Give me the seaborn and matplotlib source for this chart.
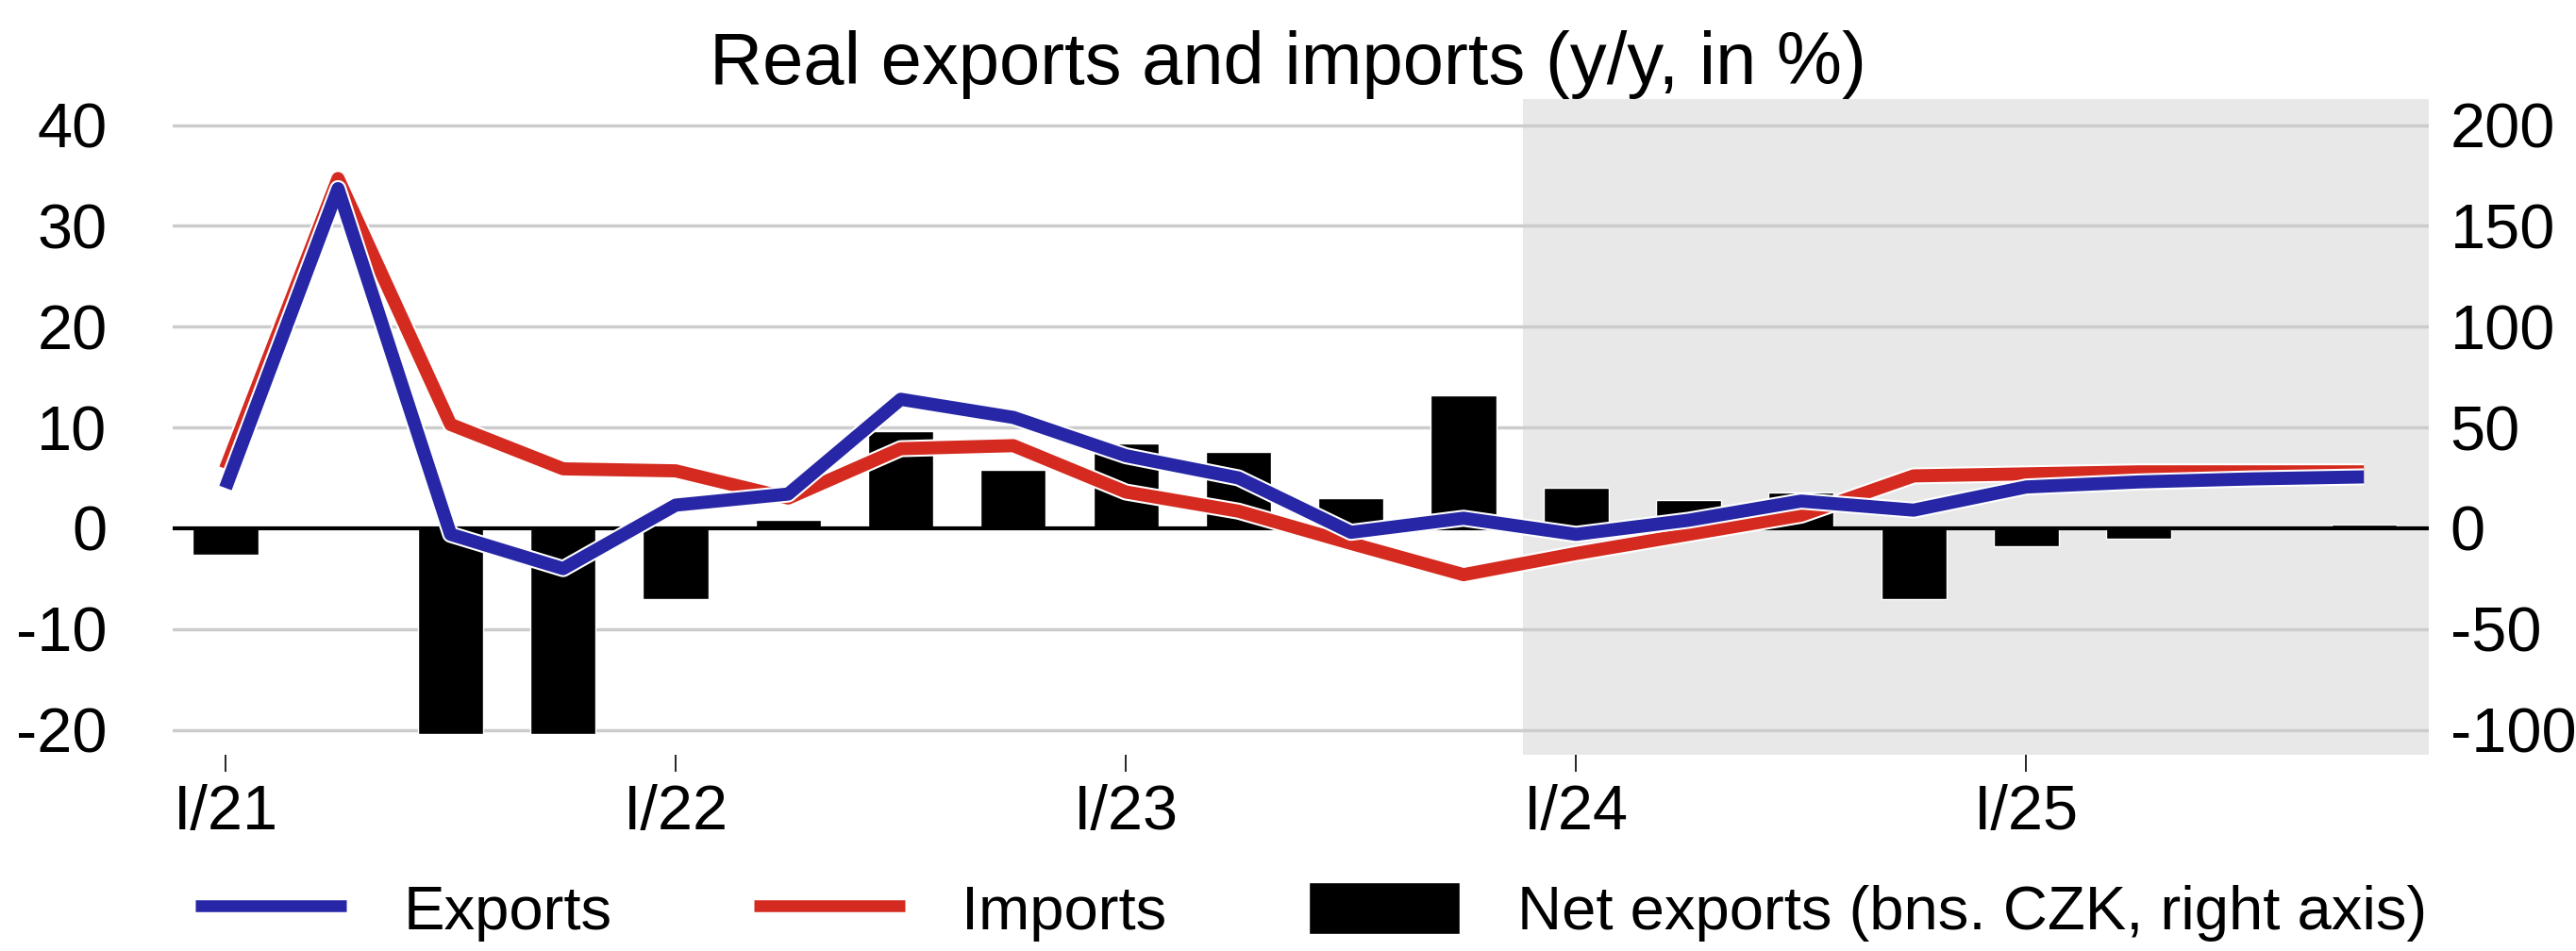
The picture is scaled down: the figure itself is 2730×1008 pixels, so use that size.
import matplotlib
matplotlib.use("Agg")
import matplotlib.pyplot as plt
import matplotlib.patheffects as pe
from matplotlib.patches import Patch
from matplotlib.lines import Line2D
import numpy as np
import pandas as pd
import seaborn as sns

quarters = ["I/21", "II/21", "III/21", "IV/21",
            "I/22", "II/22", "III/22", "IV/22",
            "I/23", "II/23", "III/23", "IV/23",
            "I/24", "II/24", "III/24", "IV/24",
            "I/25", "II/25", "III/25", "IV/25"]
exports = [4.0, 33.7, -0.6, -4.0, 2.3, 3.4, 12.8, 11.0, 7.2, 5.0,
           -0.4, 1.0, -0.6, 0.8, 2.7, 1.8, 4.1, 4.6, 4.9, 5.1]
imports = [5.9, 34.7, 10.3, 5.9, 5.7, 3.0, 7.9, 8.2, 3.6, 1.7,
           -1.5, -4.6, -2.5, -0.6, 1.3, 5.2, 5.4, 5.6, 5.6, 5.6]
net_exports = [-13, 1, -102, -102, -35, 4, 48, 29, 42, 38,
               15, 66, 20, 14, 18, -35, -9, -5, 0, 2]

forecast_start = "I/24"

df = pd.DataFrame({"quarter": quarters, "exports": exports,
                   "imports": imports, "net": net_exports})
df["idx"] = np.arange(len(df))

sns.set_style("white")
plt.rcParams['font.family'] = ['Liberation Sans', 'DejaVu Sans']
plt.rcParams['text.color'] = 'black'
plt.rcParams['xtick.color'] = 'black'
plt.rcParams['ytick.color'] = 'black'

blue = "#2626a6"
red = "#d52a1f"
fsize = 48

fig = plt.figure(figsize=(27.3, 10.08), dpi=100)
ax = fig.add_axes([0.067, 0.206, 0.876, 0.69])

# bars (right axis units) on main axes
sns.barplot(data=df, x="quarter", y="net", color="black", width=0.58,
            saturation=1, ax=ax, zorder=3)
ax.set_ylim(-112.5, 213)
ax.set_xlim(-0.47, len(df) - 0.42)
for v in [-100, -50, 50, 100, 150, 200]:
    ax.axhline(v, color="#cccccc", lw=2.5, zorder=1)
ax.axhline(0, color="black", lw=3, zorder=4)
fs = quarters.index(forecast_start) - 0.47
ax.axvspan(fs, len(df), color="#e8e8e8", zorder=0, lw=0)

ticks = [i for i, q in enumerate(quarters) if q.startswith("I/")]
ax.set_xticks(ticks)
ax.set_xticklabels([quarters[i] for i in ticks])
ax.set_xlabel("")
ax.set_ylabel("")
for s in ax.spines.values():
    s.set_visible(False)

# lines on twin axes (left axis units)
ax2 = ax.twinx()
stroke = [pe.Stroke(linewidth=13, foreground="white", capstyle="butt",
                    joinstyle="round"), pe.Normal()]
for col, c in [("imports", red), ("exports", blue)]:
    sns.lineplot(data=df, x="idx", y=col, color=c, lw=10, ax=ax2,
                 solid_capstyle="butt", solid_joinstyle="round",
                 path_effects=stroke)
ax2.set_ylim(-22.5, 42.6)
ax2.set_xlim(ax.get_xlim())
ax2.set_ylabel("")
ax2.set_xlabel("")
for s in ax2.spines.values():
    s.set_visible(False)

# axis sides: bars axis on the right, lines axis on the left
ax.yaxis.tick_right()
ax.set_yticks([-100, -50, 0, 50, 100, 150, 200])
ax.set_yticklabels(["-100", "-50", "0", "50", "100", "150", "200"])
ax.tick_params(axis="x", labelsize=fsize, length=13, width=1.2,
               direction="out", bottom=True, pad=9)
ax.tick_params(axis="y", labelsize=fsize, length=0, pad=16,
               left=False, labelleft=False, right=False, labelright=True)

ax2.yaxis.tick_left()
ax2.set_yticks([-20, -10, 0, 10, 20, 30, 40])
ax2.set_yticklabels(["-20", "-10", "0", "10", "20", "30", "40"])
ax2.tick_params(axis="y", labelsize=fsize, length=0, pad=50,
                right=False, labelright=False, left=False, labelleft=True)

fig.suptitle("Real exports and imports (y/y, in %)", fontsize=56, y=0.968)

handles = [Line2D([0], [0], color=blue, lw=9, solid_capstyle="butt"),
           Line2D([0], [0], color=red, lw=9, solid_capstyle="butt"),
           Patch(facecolor="black")]
labels = ["Exports", "Imports", "Net exports (bns. CZK, right axis)"]
fig.legend(handles, labels, loc="center left", bbox_to_anchor=(0.0758, 0.041),
           ncol=3, frameon=False, fontsize=47, handlelength=2.45,
           handleheight=0.9, columnspacing=2.3, handletextpad=0.93,
           borderpad=0, borderaxespad=0)

fig.savefig("out.png", dpi=100)
